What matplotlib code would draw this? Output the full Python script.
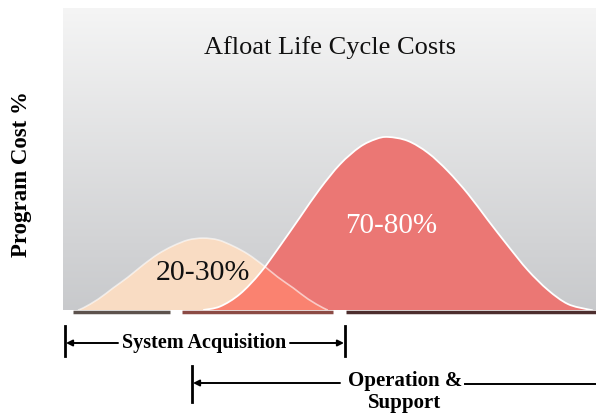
import matplotlib
matplotlib.use('Agg')
import matplotlib.pyplot as plt
import numpy as np
from matplotlib.path import Path
from matplotlib.patches import PathPatch

# life cycle position (% of program life) and relative cost level
acq_x = [2.8, 3.8, 6.6, 9.4, 12.2, 15.0, 17.8, 20.6, 23.5, 26.3,
         29.1, 31.9, 34.7, 37.5, 40.3, 43.2, 46.0, 48.8, 49.7]
acq_y = [0, 0.7, 3.6, 7.3, 10.9, 14.9, 18.5, 21.2, 23.2, 23.8,
         23.2, 21.2, 18.5, 14.9, 10.9, 7.3, 3.6, 0.7, 0]

ops_x = [26.3, 29.5, 33.2, 37.0, 40.7, 44.5, 48.2, 52.0, 55.7, 58.7, 61.0,
         64.7, 68.5, 72.2, 76.0, 79.7, 83.5, 87.2, 91.0, 94.7, 98.5, 99.4]
ops_y = [0, 1.2, 5.3, 12.3, 21.2, 30.8, 40.1, 48.3, 54.0, 56.6, 57.3,
         56.0, 52.0, 46.0, 38.4, 29.8, 21.2, 13.2, 6.6, 2.0, 0.2, 0]

title = 'Afloat Life Cycle Costs'
acq_share = '20-30%'
ops_share = '70-80%'
ylabel = 'Program Cost %'

serif = ['Liberation Serif', 'DejaVu Serif']


def smooth_path(xs, ys, closed):
    # pass a bezier curve through the read points (catmull-rom handles)
    p = np.column_stack([xs, ys])
    n = len(p)
    verts = [p[0]]
    codes = [Path.MOVETO]
    for i in range(n - 1):
        a = p[max(i - 1, 0)]
        b = p[min(i + 2, n - 1)]
        c1 = p[i] + (p[i + 1] - a) / 6
        c2 = p[i + 1] - (b - p[i]) / 6
        verts += [c1, c2, p[i + 1]]
        codes += [Path.CURVE4] * 3
    if closed:
        verts += [p[0], p[0]]
        codes += [Path.LINETO, Path.CLOSEPOLY]
    return Path(verts, codes)


fig = plt.figure(figsize=(5.96, 4.13), dpi=100)
W, H = 596, 413
ax = fig.add_axes([63 / W, (H - 310) / H, 533 / W, 302 / H])
ax.set_xlim(0, 100)
ax.set_ylim(0, 100)
ax.axis('off')

# grey gradient panel
grad = np.linspace(0, 1, 256).reshape(-1, 1)
top = np.array([0.96, 0.96, 0.96])
bot = np.array([0.785, 0.79, 0.80])
img = top + (bot - top) * grad[:, :, None]
ax.imshow(img, extent=[0, 100, 0, 100], aspect='auto', origin='upper', zorder=0)

# curves
ax.add_patch(PathPatch(smooth_path(acq_x, acq_y, True), fc='#f9dcc3', lw=0, zorder=2))
red = PathPatch(smooth_path(ops_x, ops_y, True), fc='#eb7774', lw=0, zorder=3)
ax.add_patch(red)
overlap = PathPatch(smooth_path(acq_x, acq_y, True), fc='#fa8270', lw=0, zorder=4)
ax.add_patch(overlap)
overlap.set_clip_path(red)
ax.add_patch(PathPatch(smooth_path(acq_x, acq_y, False), fill=False, ec='white',
                       lw=1.2, alpha=0.6, zorder=5))
ax.add_patch(PathPatch(smooth_path(ops_x, ops_y, False), fill=False, ec='white',
                       lw=1.3, zorder=5))

ax.text(50.1, 87, title, ha='center', va='center', fontsize=19,
        family=serif, color='#111111', zorder=6)
ax.text(61.5, 27.8, ops_share, ha='center', va='center', fontsize=21,
        family=serif, color='white', zorder=6)
ax.text(26.3, 12.3, acq_share, ha='center', va='center', fontsize=21.5,
        family=serif, color='#111111', zorder=6)

# overlay in pixel coords for labels and timeline arrows
ov = fig.add_axes([0, 0, 1, 1])
ov.set_xlim(0, W)
ov.set_ylim(H, 0)
ov.axis('off')

ov.text(22, 174, ylabel, rotation=90, ha='center', va='center',
        fontsize=16.5, fontweight='bold', family=serif)

# dark strip under panel
for x0, x1, c in [(73, 170, '#5d524d'), (182, 333, '#8c4b45'), (346, 596, '#4d2e2e')]:
    ov.plot([x0, x1], [312, 312], color=c, lw=2.5, solid_capstyle='butt')

arrow = dict(arrowstyle='-|>', color='black', lw=1.4, mutation_scale=9,
             shrinkA=0, shrinkB=0)

# System Acquisition
ov.plot([65, 65], [326, 356], color='black', lw=2)
ov.plot([345, 345], [326, 356], color='black', lw=2)
ov.annotate('', xy=(66, 343), xytext=(118, 343), arrowprops=arrow)
ov.annotate('', xy=(344, 343), xytext=(290, 343), arrowprops=arrow)
ov.text(204, 343, 'System Acquisition', ha='center', va='center',
        fontsize=14.5, fontweight='bold', family=serif)

# Operation & Support
ov.plot([192, 192], [366, 402], color='black', lw=2)
ov.annotate('', xy=(193, 383), xytext=(340, 383), arrowprops=arrow)
ov.plot([465, 596], [384, 384], color='black', lw=1.4)
ov.text(405, 381, 'Operation &', ha='center', va='center',
        fontsize=15, fontweight='bold', family=serif)
ov.text(405, 403, 'Support', ha='center', va='center',
        fontsize=15, fontweight='bold', family=serif)

fig.savefig('out.png', dpi=100)
